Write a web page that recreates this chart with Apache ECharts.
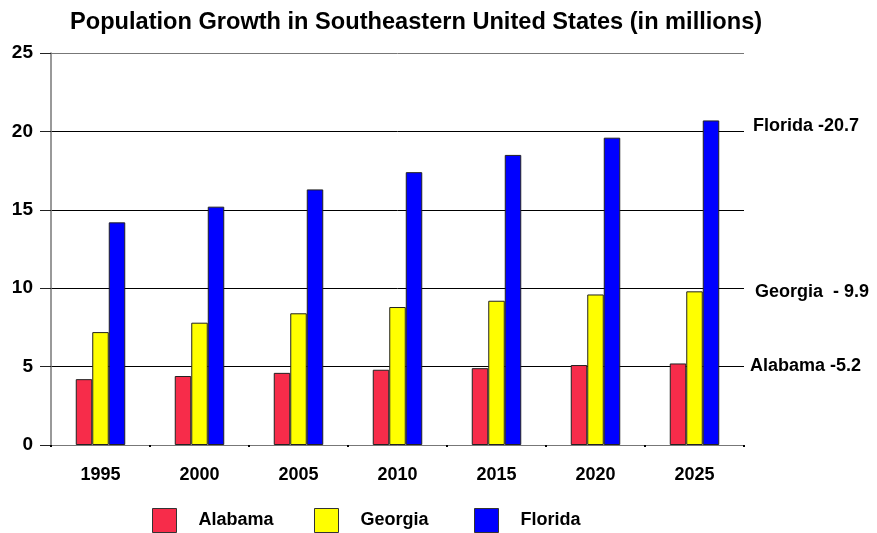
<!DOCTYPE html>
<html><head><meta charset="utf-8">
<script src="https://cdn.jsdelivr.net/npm/echarts@6/dist/echarts.min.js"></script>
<style>html,body{margin:0;padding:0;background:#fff}#c{width:877px;height:533px}</style>
</head><body><div id="c"></div>
<script>
const years = ['1995', '2000', '2005', '2010', '2015', '2020', '2025'];
const alabama = [4.2, 4.4, 4.6, 4.8, 4.9, 5.1, 5.2];
const georgia = [7.2, 7.8, 8.4, 8.8, 9.2, 9.6, 9.8];
const florida = [14.2, 15.2, 16.3, 17.4, 18.5, 19.6, 20.7];
const seriesNames = ['Alabama', 'Georgia', 'Florida'];
const seriesColors = ['#F72C4A', '#FFFF00', '#0000FF'];
const sideLabelTexts = ['Alabama -5.2', 'Georgia  - 9.9', 'Florida -20.7'];
const sideLabelValues = [5.2, 9.9, 20.7];
const titleText = 'Population Growth in Southeastern United States (in millions)';

const FONT = "'Liberation Sans', Arial, sans-serif";
const chart = echarts.init(document.getElementById('c'));
const seriesData = [alabama, georgia, florida];

const legendLefts = [152, 314, 474];
const option = {
  animation: false,
  backgroundColor: '#fff',
  title: {
    text: titleText, left: 70, top: 10.5, padding: 0,
    textStyle: { fontFamily: FONT, fontSize: 23.6, fontWeight: 'bold', color: '#000' }
  },
  legend: seriesNames.map((n, i) => ({
    data: [n], left: legendLefts[i], top: 508, padding: 0,
    itemWidth: 24, itemHeight: 24, icon: 'rect',
    itemStyle: { borderColor: '#333', borderWidth: 1 },
    textStyle: { fontFamily: FONT, fontSize: 18, fontWeight: 'bold', color: '#000', padding: [0, 0, 0, 17] }
  })),
  grid: { left: 51, right: 133, top: 53, bottom: 88, containLabel: false },
  xAxis: [{
    type: 'category', data: years, boundaryGap: true,
    axisLine: { lineStyle: { color: '#777', width: 1 } },
    axisTick: { alignWithLabel: true, length: 11, lineStyle: { color: '#777' } },
    axisLabel: { margin: 21, fontFamily: FONT, fontSize: 18, fontWeight: 'bold', color: '#000' }
  }, {
    type: 'category', data: years, boundaryGap: true, position: 'bottom',
    axisLine: { show: false },
    axisTick: { show: true, alignWithLabel: false, length: 2, lineStyle: { color: '#000', width: 2 } },
    axisLabel: { show: false }
  }],
  yAxis: {
    type: 'value', min: 0, max: 25, interval: 5,
    axisLine: { show: true, lineStyle: { color: '#777', width: 1.5 } },
    axisTick: { show: true, inside: false, length: 11, lineStyle: { color: '#222' } },
    axisLabel: { margin: 18, fontFamily: FONT, fontSize: 19, fontWeight: 'bold', color: '#000' },
    splitLine: { show: true, lineStyle: { color: ['#777', '#000', '#000', '#000', '#000', '#777'], width: 1 } }
  },
  series: seriesNames.map((n, i) => ({
    name: n, type: 'bar', data: seriesData[i], barWidth: 16.5, barGap: '0%',
    itemStyle: { color: seriesColors[i], borderColor: '#222', borderWidth: 1 }
  }))
};
chart.setOption(option);

const lx = [750, 755, 753];
const dy = [2.5, 2.5, 6];
chart.setOption({
  graphic: sideLabelTexts.map((t, i) => ({
    type: 'text',
    x: lx[i],
    y: chart.convertToPixel({ yAxisIndex: 0 }, sideLabelValues[i]) + dy[i],
    style: { text: t, fontFamily: FONT, fontSize: 18, fontWeight: 'bold', fill: '#000', verticalAlign: 'middle', align: 'left' }
  }))
});
</script></body></html>
